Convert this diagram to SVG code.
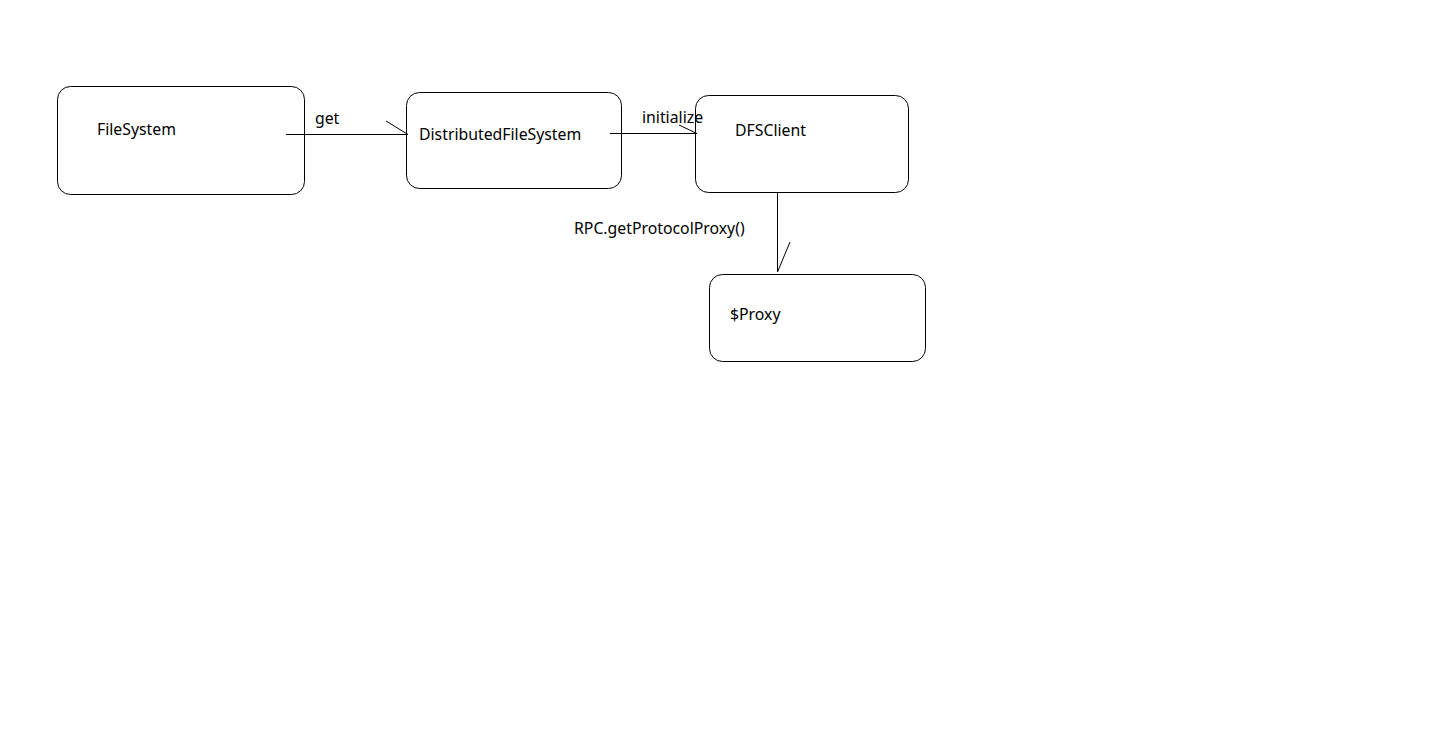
<svg xmlns="http://www.w3.org/2000/svg" width="1429" height="734" viewBox="0 0 1429 734">
<style>
.box{fill:#fff;stroke:#000;stroke-width:1}
.t{font-family:"Noto Sans","Open Sans","Liberation Sans",sans-serif;font-size:15.8px;fill:#000}
.c{stroke:#000;stroke-width:1;fill:none}
</style>
<rect width="1429" height="734" fill="#fff"/>
<g id="n-filesystem"><rect class="box" x="57.5" y="86.5" width="247" height="108" rx="13"/><text class="t" x="97" y="135">FileSystem</text></g>
<g id="n-dfs"><rect class="box" x="406.5" y="92.5" width="215" height="96" rx="13"/><text class="t" x="419" y="140">DistributedFileSystem</text></g>
<g id="n-dfsclient"><rect class="box" x="695.5" y="95.5" width="213" height="97" rx="13"/><text class="t" x="735" y="136">DFSClient</text></g>
<g id="n-proxy"><rect class="box" x="709.5" y="274.5" width="216" height="87" rx="13"/><text class="t" x="730" y="320">$Proxy</text></g>
<g id="connectors">
<path class="c" d="M286 134.5H408M386 121L408 134.5"/>
<text class="t" x="315" y="124">get</text>
<path class="c" d="M610 133.5H697M679 125L697 133.5"/>
<text class="t" x="642" y="123">initialize</text>
<path class="c" d="M777.5 192V272M790 242L777.5 272"/>
<text class="t" x="574" y="234">RPC.getProtocolProxy()</text>
</g>
</svg>
